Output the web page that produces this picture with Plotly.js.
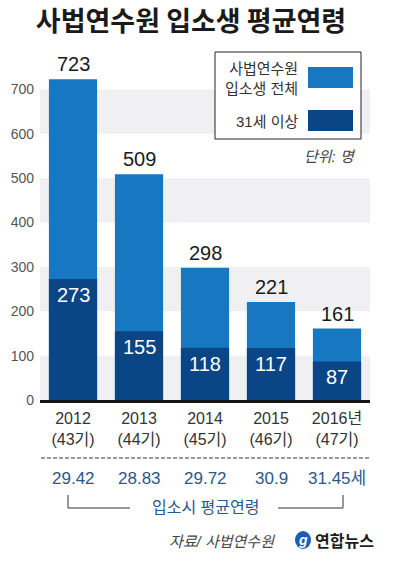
<!DOCTYPE html>
<html>
<head>
<meta charset="utf-8">
<script src="https://cdn.plot.ly/plotly-3.0.1.min.js"></script>
<style>html,body{margin:0;padding:0;background:#fff;}#chart{width:396px;height:562px;}</style>
</head>
<body>
<div id="chart"></div>
<script>
// ---- data ----
const years = ["2012", "2013", "2014", "2015", "2016"];
const yearLabels = ["2012<br>(43기)", "2013<br>(44기)", "2014<br>(45기)", "2015<br>(46기)", "2016년<br>(47기)"];
const totalEntrants = [723, 509, 298, 221, 161];
const over31 = [273, 155, 118, 117, 87];
const avgAge = [29.42, 28.83, 29.72, 30.9, 31.45];
const ageLabels = ["29.42", "28.83", "29.72", "30.9", "31.45세"];
const yTicks = [0, 100, 200, 300, 400, 500, 600, 700];

// ---- layout helpers (pixel -> paper) ----
const W = 396, H = 562, L = 40, R = 26, T = 55, B = 162;
const PW = W - L - R, PH = H - T - B;
const px = v => (v - L) / PW;
const py = v => (H - B - v) / PH;

const KR = '"Liberation Sans", "Noto Sans CJK KR", sans-serif';
const LIGHT = '#1777c0', DARK = '#0a4585', AGE = '#2b5789';

const traces = [
  {type: 'bar', x: years, y: totalEntrants, marker: {color: LIGHT}, name: '사법연수원 입소생 전체', hoverinfo: 'skip'},
  {type: 'bar', x: years, y: over31, marker: {color: DARK}, name: '31세 이상', hoverinfo: 'skip'}
];

const annotations = [];
years.forEach((yr, i) => {
  annotations.push({x: i, y: totalEntrants[i], xref: 'x', yref: 'y', text: String(totalEntrants[i]),
    showarrow: false, yanchor: 'bottom', yshift: 2, font: {family: KR, size: 20, color: '#1a1a1a'}});
  annotations.push({x: i, y: over31[i], xref: 'x', yref: 'y', text: String(over31[i]),
    showarrow: false, yanchor: 'top', yshift: -3, font: {family: KR, size: 20, color: '#ffffff'}});
  annotations.push({x: i, y: py(478), xref: 'x', yref: 'paper', text: ageLabels[i],
    showarrow: false, yanchor: 'middle', font: {family: KR, size: 17, color: AGE}});
});
annotations.push(
  {x: px(300), y: py(78), xref: 'paper', yref: 'paper', text: '사법연수원<br>입소생 전체', align: 'right',
   showarrow: false, xanchor: 'right', yanchor: 'middle', font: {family: KR, size: 15, color: '#333'}},
  {x: px(300), y: py(121), xref: 'paper', yref: 'paper', text: '31세 이상', align: 'right',
   showarrow: false, xanchor: 'right', yanchor: 'middle', font: {family: KR, size: 15, color: '#333'}},
  {x: px(358), y: py(156), xref: 'paper', yref: 'paper', text: '<i>단위: 명</i>',
   showarrow: false, xanchor: 'right', yanchor: 'middle', font: {family: KR, size: 15, color: '#444'}},
  {x: px(206), y: py(507), xref: 'paper', yref: 'paper', text: '입소시 평균연령',
   showarrow: false, xanchor: 'center', yanchor: 'middle', font: {family: KR, size: 16, color: AGE}},
  {x: px(277), y: py(541), xref: 'paper', yref: 'paper', text: '<i>자료/ 사법연수원</i>',
   showarrow: false, xanchor: 'right', yanchor: 'middle', font: {family: KR, size: 15, color: '#444'}},
  {x: px(313), y: py(540), xref: 'paper', yref: 'paper', text: '<b>연합뉴스</b>',
   showarrow: false, xanchor: 'left', yanchor: 'middle', font: {family: '"Noto Sans CJK KR", sans-serif', size: 16, color: '#1c1c1c'}},
  {x: px(303), y: py(540), xref: 'paper', yref: 'paper', text: '<i><b>g</b></i>',
   showarrow: false, xanchor: 'center', yanchor: 'middle', font: {family: KR, size: 14, color: '#ffffff'}}
);

const shapes = [];
// alternating background bands
[[0, 100], [200, 300], [400, 500], [600, 700]].forEach(b => {
  shapes.push({type: 'rect', xref: 'paper', yref: 'y', x0: 0, x1: 1, y0: b[0], y1: b[1],
    fillcolor: '#f0f0f2', line: {width: 0}, layer: 'below'});
});
// legend box
shapes.push({type: 'rect', xref: 'paper', yref: 'paper', x0: px(215), x1: px(361), y0: py(139), y1: py(52),
  fillcolor: '#ffffff', line: {color: '#222', width: 1}, layer: 'above'});
shapes.push({type: 'rect', xref: 'paper', yref: 'paper', x0: px(308), x1: px(353), y0: py(88), y1: py(67),
  fillcolor: LIGHT, line: {width: 0}});
shapes.push({type: 'rect', xref: 'paper', yref: 'paper', x0: px(308), x1: px(353), y0: py(131), y1: py(110),
  fillcolor: DARK, line: {width: 0}});
// dashed separator
shapes.push({type: 'line', xref: 'paper', yref: 'paper', x0: px(41), x1: px(370), y0: py(458), y1: py(458),
  line: {color: '#333', width: 1, dash: '4px,2px'}});
// bracket
shapes.push({type: 'path', xref: 'paper', yref: 'paper',
  path: `M ${px(68)},${py(495)} L ${px(68)},${py(508)} L ${px(130)},${py(508)} M ${px(278)},${py(508)} L ${px(343)},${py(508)} L ${px(343)},${py(495)}`,
  line: {color: '#333', width: 1}});
// logo circle
shapes.push({type: 'circle', xref: 'paper', yref: 'paper', x0: px(295), x1: px(311), y0: py(549), y1: py(531),
  fillcolor: '#1a5fb4', line: {width: 0}});

const layout = {
  width: W, height: H,
  margin: {l: L, r: R, t: T, b: B},
  paper_bgcolor: '#fff', plot_bgcolor: 'rgba(0,0,0,0)',
  barmode: 'overlay', bargap: 0.27, showlegend: false,
  title: {text: '<b>사법연수원 입소생 평균연령</b>', xref: 'container', yref: 'container',
    x: 191 / W, y: (H - 22) / H, xanchor: 'center', yanchor: 'middle',
    font: {family: '"Noto Sans CJK KR", sans-serif', size: 27, color: '#1a1a1a'}},
  xaxis: {type: 'category', range: [-0.5, 4.5], autorange: false, tickvals: years, ticktext: yearLabels,
    showgrid: false, zeroline: false,
    showline: true, linecolor: '#151515', linewidth: 2.5, ticks: '', ticklabelstandoff: 2,
    tickfont: {family: KR, size: 16, color: '#333'}, fixedrange: true},
  yaxis: {range: [0, PH / 0.4436], autorange: false, tickvals: yTicks, showgrid: false, zeroline: false, showline: false,
    ticks: '', ticklabelstandoff: 5, tickfont: {family: KR, size: 14, color: '#555'}, fixedrange: true},
  shapes: shapes, annotations: annotations, hovermode: false
};

Plotly.newPlot('chart', traces, layout, {displayModeBar: false, staticPlot: true});
</script>
</body>
</html>
